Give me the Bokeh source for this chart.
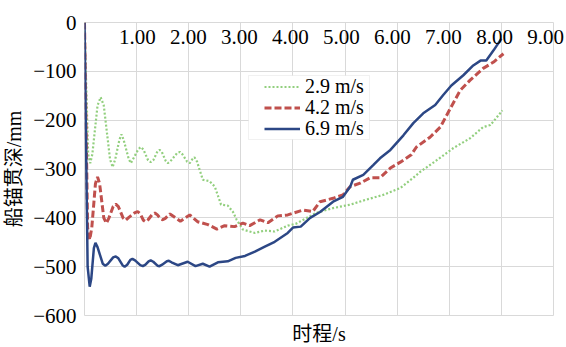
from bokeh.plotting import figure
from bokeh.models import Range1d, LinearAxis, FixedTicker, Legend, LegendItem, BoxAnnotation
from bokeh.embed import file_html
from bokeh.resources import INLINE

# Anchor penetration time histories for three drop velocities
t_29 = [0.0, 0.07, 0.11, 0.15, 0.25, 0.31, 0.37, 0.49, 0.54, 0.59, 0.67, 0.71, 0.75,
        0.85, 0.89, 0.93, 1.03, 1.08, 1.13, 1.22, 1.27, 1.32, 1.40, 1.44, 1.48, 1.56,
        1.60, 1.65, 1.78, 1.83, 1.88, 1.97, 2.02, 2.07, 2.11, 2.16, 2.27, 2.40, 2.50,
        2.62, 2.75, 2.85, 2.92, 3.04, 3.27, 3.46, 3.65, 3.90, 4.06, 4.44, 4.77, 5.10,
        5.40, 5.73, 6.06, 6.31, 6.44, 6.76, 7.08, 7.40, 7.65, 7.79, 8.02]
d_29 = [0, -270, -288, -270, -170, -153, -170, -280, -296, -280, -240, -229, -240,
        -280, -288, -280, -260, -255, -260, -282, -286, -282, -264, -261, -264, -284,
        -288, -284, -267, -265, -270, -285, -288, -280, -276, -285, -322, -325, -336,
        -373, -375, -388, -404, -424, -431, -426, -428, -416, -412, -390, -380, -373,
        -363, -353, -339, -318, -306, -282, -257, -237, -214, -210, -180]

t_42 = [0.0, 0.06, 0.10, 0.14, 0.21, 0.25, 0.29, 0.37, 0.42, 0.47, 0.55, 0.60, 0.65,
        0.74, 0.79, 0.84, 0.96, 1.02, 1.07, 1.13, 1.17, 1.22, 1.30, 1.35, 1.40, 1.46,
        1.50, 1.55, 1.64, 1.84, 2.02, 2.17, 2.37, 2.54, 2.69, 2.88, 3.04, 3.17, 3.37,
        3.52, 3.71, 3.90, 4.19, 4.38, 4.52, 4.77, 4.96, 5.10, 5.29, 5.48, 5.67, 5.87,
        6.06, 6.27, 6.37, 6.63, 6.83, 7.02, 7.21, 7.40, 7.65, 7.85, 8.04]
d_42 = [0, -420, -445, -420, -330, -316, -330, -400, -411, -400, -377, -372, -377,
        -400, -405, -400, -390, -387, -392, -405, -408, -404, -393, -390, -394, -402,
        -404, -401, -392, -407, -394, -408, -414, -423, -416, -418, -411, -416, -404,
        -410, -396, -394, -384, -387, -367, -360, -353, -336, -329, -318, -318, -298,
        -286, -271, -255, -235, -214, -176, -139, -118, -94, -81, -64]

t_69 = [0.0, 0.06, 0.10, 0.13, 0.18, 0.21, 0.25, 0.35, 0.40, 0.45, 0.55, 0.60, 0.65,
        0.73, 0.77, 0.82, 0.88, 0.92, 0.97, 1.07, 1.12, 1.17, 1.23, 1.27, 1.32, 1.40,
        1.44, 1.49, 1.58, 1.62, 1.67, 1.79, 1.98, 2.13, 2.27, 2.40, 2.56, 2.75, 2.90,
        3.08, 3.27, 3.46, 3.65, 3.90, 4.00, 4.15, 4.33, 4.52, 4.77, 4.96, 5.10, 5.15,
        5.35, 5.54, 5.67, 5.87, 6.12, 6.31, 6.50, 6.73, 6.88, 7.04, 7.27, 7.46, 7.60,
        7.71, 7.85, 8.00]
d_69 = [0, -500, -541, -525, -462, -451, -460, -494, -498, -494, -481, -479, -483,
        -497, -500, -496, -486, -484, -487, -497, -499, -496, -489, -487, -490, -498,
        -499, -496, -489, -488, -491, -497, -490, -499, -494, -500, -491, -489, -482,
        -478, -469, -459, -449, -431, -420, -418, -400, -388, -367, -357, -336, -322,
        -312, -292, -278, -261, -231, -206, -186, -169, -149, -129, -108, -88, -78,
        -78, -57, -33]

series_names = ["2.9 m/s", "4.2 m/s", "6.9 m/s"]
x_ticks = [1, 2, 3, 4, 5, 6, 7, 8, 9]
y_ticks = [0, -100, -200, -300, -400, -500, -600]

SERIF = "Liberation Serif"
LABEL_FONT = "Liberation Serif, Noto Sans CJK SC"

p = figure(width=566, height=347, output_backend="svg", toolbar_location=None,
           x_range=Range1d(0, 9), y_range=Range1d(-600, 0),
           x_axis_location=None, y_axis_location=None,
           min_border_left=82, min_border_right=13, min_border_top=22,
           min_border_bottom=31)
p.background_fill_color = "white"
p.border_fill_color = "white"
p.outline_line_color = "#d9d9d9"
p.outline_line_width = 1

# left axis with depth values
yax = LinearAxis(ticker=FixedTicker(ticks=y_ticks))
yax.major_label_overrides = {v: ("0" if v == 0 else "\u2212" + str(-v)) for v in y_ticks}
yax.axis_line_color = None
yax.major_tick_line_color = None
yax.minor_tick_line_color = None
yax.major_tick_out = 0
yax.major_tick_in = 0
yax.major_label_standoff = 8
yax.major_label_text_font = SERIF
yax.major_label_text_font_size = "21px"
yax.major_label_text_color = "black"
yax.axis_label = "船锚贯深/mm"
yax.axis_label_text_font = LABEL_FONT
yax.axis_label_text_font_size = "20px"
yax.axis_label_text_font_style = "normal"
yax.axis_label_text_color = "black"
yax.axis_label_standoff = 5
p.add_layout(yax, "left")

# bottom axis carries only the title
xax = LinearAxis(ticker=FixedTicker(ticks=[]))
xax.axis_line_color = None
xax.major_tick_line_color = None
xax.minor_tick_line_color = None
xax.axis_label = "时程/s"
xax.axis_label_text_font = LABEL_FONT
xax.axis_label_text_font_size = "20px"
xax.axis_label_text_font_style = "normal"
xax.axis_label_text_color = "black"
xax.axis_label_standoff = 7
p.add_layout(xax, "below")

# time labels hang just under the zero line, on a slightly tighter spacing
p.extra_x_ranges = {"time_labels": Range1d(-0.034, 9.156)}
tax = LinearAxis(x_range_name="time_labels", ticker=FixedTicker(ticks=x_ticks))
tax.major_label_overrides = {v: "%.2f" % v for v in x_ticks}
tax.axis_line_color = None
tax.major_tick_line_color = None
tax.minor_tick_line_color = None
tax.major_tick_out = 0
tax.major_tick_in = 0
tax.major_label_standoff = -21
tax.major_label_text_font = SERIF
tax.major_label_text_font_size = "21px"
tax.major_label_text_color = "black"
p.add_layout(tax, "above")

# grid
p.xgrid.ticker = FixedTicker(ticks=[0] + x_ticks)
p.ygrid.ticker = FixedTicker(ticks=y_ticks)
p.xgrid.grid_line_color = "#d9d9d9"
p.ygrid.grid_line_color = "#d9d9d9"

r1 = p.line(t_29, d_29, line_color="#92cf7e", line_width=2.2, line_dash="2 2")
r2 = p.line(t_42, d_42, line_color="#c0504d", line_width=3, line_dash="7 3")
r3 = p.line(t_69, d_69, line_color="#2c4785", line_width=2.5)

# legend frame, then one borderless row per series on a compact pitch
p.add_layout(BoxAnnotation(left=248, right=369, top=75, bottom=139,
                           left_units="canvas", right_units="canvas",
                           top_units="canvas", bottom_units="canvas",
                           fill_color="white", fill_alpha=1,
                           line_color="#d0d0d0", line_width=1))

row_y = [217, 196, 175]
for name, rend, yy in zip(series_names, [r1, r2, r3], row_y):
    lg = Legend(items=[LegendItem(label=name, renderers=[rend])], location=(180, yy))
    lg.label_text_font = SERIF
    lg.label_text_font_size = "20px"
    lg.label_text_color = "black"
    lg.glyph_width = 36
    lg.glyph_height = 19
    lg.label_height = 19
    lg.label_standoff = 5
    lg.spacing = 0
    lg.padding = 0
    lg.margin = 0
    lg.border_line_color = None
    lg.background_fill_alpha = 0
    p.add_layout(lg)

open("out.html", "w").write(file_html(p, INLINE))
